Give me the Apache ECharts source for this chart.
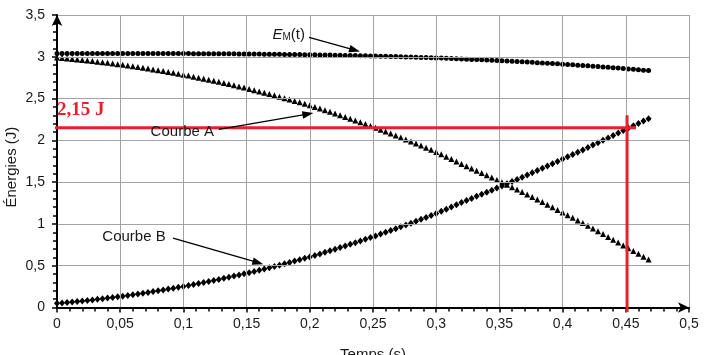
<!DOCTYPE html>
<html><head><meta charset="utf-8">
<script src="https://cdn.jsdelivr.net/npm/echarts@6/dist/echarts.min.js"></script>
<style>html,body{margin:0;padding:0;background:#fff}#c{width:705px;height:355px}</style>
</head><body><div id="c"></div>
<script>
// Sample times (s)
const TIME = [
0,0.004,0.008,0.012,0.016,0.02,0.024,0.028,0.032,0.036,
0.04,0.044,0.048,0.052,0.056,0.06,0.064,0.068,0.072,0.076,
0.08,0.084,0.088,0.092,0.096,0.1,0.104,0.108,0.112,0.116,
0.12,0.124,0.128,0.132,0.136,0.14,0.144,0.148,0.152,0.156,
0.16,0.164,0.168,0.172,0.176,0.18,0.184,0.188,0.192,0.196,
0.2,0.204,0.208,0.212,0.216,0.22,0.224,0.228,0.232,0.236,
0.24,0.244,0.248,0.252,0.256,0.26,0.264,0.268,0.272,0.276,
0.28,0.284,0.288,0.292,0.296,0.3,0.304,0.308,0.312,0.316,
0.32,0.324,0.328,0.332,0.336,0.34,0.344,0.348,0.352,0.356,
0.36,0.364,0.368,0.372,0.376,0.38,0.384,0.388,0.392,0.396,
0.4,0.404,0.408,0.412,0.416,0.42,0.424,0.428,0.432,0.436,
0.44,0.444,0.448,0.452,0.456,0.46,0.464,0.468];

// E_M(t) (J) - circles
const EM = [
3.04,3.04,3.04,3.04,3.04,3.04,3.04,3.04,3.04,3.04,
3.04,3.04,3.04,3.04,3.04,3.04,3.039,3.039,3.039,3.039,
3.039,3.039,3.039,3.038,3.038,3.038,3.038,3.037,3.037,3.037,
3.037,3.036,3.036,3.035,3.035,3.035,3.034,3.034,3.033,3.032,
3.032,3.031,3.031,3.03,3.029,3.028,3.028,3.027,3.026,3.025,
3.024,3.023,3.022,3.021,3.02,3.019,3.018,3.016,3.015,3.014,
3.012,3.011,3.009,3.008,3.006,3.005,3.003,3.002,3.0,2.998,
2.996,2.994,2.992,2.99,2.988,2.986,2.984,2.982,2.979,2.977,
2.974,2.972,2.969,2.967,2.964,2.961,2.959,2.956,2.953,2.95,
2.947,2.944,2.94,2.937,2.934,2.93,2.927,2.923,2.92,2.916,
2.912,2.908,2.904,2.9,2.896,2.892,2.888,2.883,2.879,2.874,
2.87,2.865,2.86,2.855,2.85,2.845,2.84,2.835];

// Courbe A (J) - triangles
const CURVE_A = [
2.99,2.985,2.98,2.974,2.968,2.962,2.956,2.949,2.942,2.935,
2.928,2.92,2.912,2.904,2.896,2.887,2.877,2.868,2.859,2.849,
2.84,2.829,2.819,2.808,2.797,2.786,2.775,2.762,2.75,2.738,
2.726,2.713,2.7,2.686,2.673,2.659,2.645,2.631,2.616,2.6,
2.586,2.57,2.555,2.539,2.522,2.505,2.489,2.472,2.455,2.437,
2.419,2.4,2.381,2.361,2.341,2.321,2.301,2.28,2.259,2.238,
2.216,2.195,2.172,2.151,2.128,2.105,2.082,2.059,2.035,2.011,
1.987,1.962,1.937,1.912,1.887,1.861,1.833,1.805,1.776,1.747,
1.717,1.691,1.664,1.637,1.61,1.582,1.555,1.526,1.498,1.469,
1.44,1.411,1.382,1.352,1.323,1.292,1.262,1.23,1.2,1.168,
1.136,1.105,1.074,1.042,1.01,0.978,0.945,0.911,0.879,0.845,
0.811,0.777,0.742,0.708,0.675,0.642,0.608,0.575];

// Courbe B (J) - diamonds
const CURVE_B = [
0.05,0.055,0.061,0.066,0.072,0.078,0.085,0.091,0.098,0.105,
0.113,0.12,0.128,0.136,0.144,0.153,0.162,0.171,0.18,0.19,
0.2,0.21,0.22,0.23,0.241,0.252,0.264,0.275,0.287,0.299,
0.311,0.323,0.336,0.349,0.362,0.376,0.389,0.403,0.417,0.432,
0.446,0.461,0.476,0.492,0.507,0.523,0.539,0.555,0.572,0.588,
0.605,0.623,0.641,0.66,0.679,0.698,0.717,0.736,0.756,0.776,
0.796,0.816,0.837,0.857,0.878,0.9,0.921,0.943,0.965,0.987,
1.009,1.032,1.055,1.078,1.101,1.125,1.151,1.177,1.203,1.23,
1.257,1.281,1.305,1.33,1.354,1.379,1.404,1.43,1.455,1.481,
1.507,1.533,1.558,1.585,1.611,1.638,1.665,1.693,1.72,1.748,
1.776,1.803,1.83,1.858,1.886,1.914,1.943,1.972,2.0,2.029,
2.059,2.088,2.118,2.147,2.175,2.203,2.232,2.26];

const X_RANGE = [0, 0.5];
const Y_RANGE = [0, 3.5];
const X_TICK_STEP = 0.05;
const Y_TICK_STEP = 0.5;

// Red reading lines
const MARK_T = 0.451;
const MARK_E = 2.15;
const MARK_LABEL = '2,15 J';
const MARK_H_SPAN = [-0.008, 0.458];
const MARK_V_SPAN = [2.30, -0.055];

const X_NAME = 'Temps (s)';
const Y_NAME = 'Énergies (J)';
const LABEL_EM = ['E', 'M', '(t)'];
const LABEL_A = 'Courbe A';
const LABEL_B = 'Courbe B';

const font = "'Liberation Sans', Arial, sans-serif";
const TXT = '#1a1a1a';
const RED = '#e8202a';
const comma = v => String(+(+v).toFixed(3)).replace('.', ',');
const pts = arr => TIME.map((t, i) => [t, arr[i]]);

const chart = echarts.init(document.getElementById('c'), null, {renderer: 'canvas'});

function axis(extra) {
  return Object.assign({
    type: 'value',
    axisLine: {show: true, onZero: false, symbol: ['none', 'arrow'], symbolSize: [8, 11],
      lineStyle: {color: '#000', width: 2}},
    axisTick: {show: true, length: 5, lineStyle: {color: '#000', width: 1.5}},
    minorTick: {show: true, splitNumber: 5, length: 4, lineStyle: {color: '#000', width: 1.5}},
    splitLine: {show: true, lineStyle: {color: '#a3a3a3', width: 1}},
    axisLabel: {formatter: comma, fontFamily: font, fontSize: 14, color: TXT, margin: 10},
    z: 5
  }, extra);
}

chart.setOption({
  animation: false,
  grid: {left: 57, right: 16, top: 15, bottom: 47.5, containLabel: false, outerBoundsMode: 'none'},
  xAxis: axis({min: X_RANGE[0], max: X_RANGE[1], interval: X_TICK_STEP,
    name: X_NAME, nameLocation: 'middle', nameGap: 40,
    nameTextStyle: {fontFamily: font, fontSize: 15, color: TXT}}),
  yAxis: axis({min: Y_RANGE[0], max: Y_RANGE[1], interval: Y_TICK_STEP,
    axisLabel: {formatter: comma, fontFamily: font, fontSize: 14, color: TXT, margin: 12}}),
  series: [
    {type: 'scatter', name: 'EM', data: pts(EM), symbol: 'circle', symbolSize: 5,
      itemStyle: {color: '#000', opacity: 1}, silent: true, z: 3},
    {type: 'scatter', name: 'A', data: pts(CURVE_A), symbol: 'triangle', symbolSize: [6, 6],
      itemStyle: {color: '#000', opacity: 1}, silent: true, z: 3},
    {type: 'scatter', name: 'B', data: pts(CURVE_B), symbol: 'diamond', symbolSize: [6, 7],
      itemStyle: {color: '#000', opacity: 1}, silent: true, z: 4},
    {type: 'line', data: [[MARK_H_SPAN[0], MARK_E], [MARK_H_SPAN[1], MARK_E]], clip: false,
      symbol: 'none', lineStyle: {color: RED, width: 3}, silent: true, z: 8},
    {type: 'line', data: [[MARK_T, MARK_V_SPAN[0]], [MARK_T, MARK_V_SPAN[1]]], clip: false,
      symbol: 'none', lineStyle: {color: RED, width: 3}, silent: true, z: 8}
  ]
});

const px = (t, e) => chart.convertToPixel({gridIndex: 0}, [t, e]);

function arrow(a, b) {
  const p0 = px(a[0], a[1]), p1 = px(b[0], b[1]);
  const dx = p1[0] - p0[0], dy = p1[1] - p0[1], L = Math.hypot(dx, dy);
  const ux = dx / L, uy = dy / L, hl = 11, hw = 3.8;
  const bx = p1[0] - ux * hl, by = p1[1] - uy * hl;
  return [
    {type: 'line', shape: {x1: p0[0], y1: p0[1], x2: bx + ux * 2, y2: by + uy * 2},
      style: {stroke: '#000', lineWidth: 1.3}, z: 20},
    {type: 'polygon', shape: {points: [[p1[0], p1[1]], [bx - uy * hw, by + ux * hw], [bx + uy * hw, by - ux * hw]]},
      style: {fill: '#000'}, z: 20}
  ];
}

function text(at, str, align, extra) {
  const p = px(at[0], at[1]);
  return Object.assign({type: 'text', x: p[0], y: p[1], z: 15,
    style: Object.assign({text: str, align: align, verticalAlign: 'middle',
      font: '15px ' + font, fill: TXT}, extra || {})});
}

const g = [];
// E_M(t) label + arrow
g.push(text([0.1962, 3.278], '{e|' + LABEL_EM[0] + '}{m|' + LABEL_EM[1] + '}{p|' + LABEL_EM[2] + '}', 'right', {
  rich: {
    e: {fontStyle: 'italic', fontSize: 15, fontFamily: font, fill: TXT, verticalAlign: 'bottom', lineHeight: 18},
    m: {fontSize: 10, fontFamily: font, fill: TXT, verticalAlign: 'bottom', lineHeight: 14},
    p: {fontSize: 15, fontFamily: font, fill: TXT, verticalAlign: 'bottom', lineHeight: 18}
  }
}));
g.push(...arrow([0.1994, 3.233], [0.2397, 3.062]));
// Courbe A
g.push(text([0.1242, 2.107], LABEL_A, 'right'));
g.push(...arrow([0.128, 2.132], [0.2028, 2.326]));
// Courbe B
g.push(text([0.086, 0.845], LABEL_B, 'right'));
g.push(...arrow([0.0918, 0.83], [0.1632, 0.519]));
// 2,15 J
g.push(text([0, 2.358], MARK_LABEL, 'left', {font: "bold 19px 'Liberation Serif', 'Times New Roman', serif", fill: RED}));
// Y axis name (rotated)
(function () {
  const p = px(0, 1.68);
  g.push({type: 'text', x: 12, y: p[1], rotation: Math.PI / 2, z: 15,
    style: {text: Y_NAME, align: 'center', verticalAlign: 'middle', font: '15px ' + font, fill: TXT}});
})();

chart.setOption({graphic: g});
</script>
</body></html>
